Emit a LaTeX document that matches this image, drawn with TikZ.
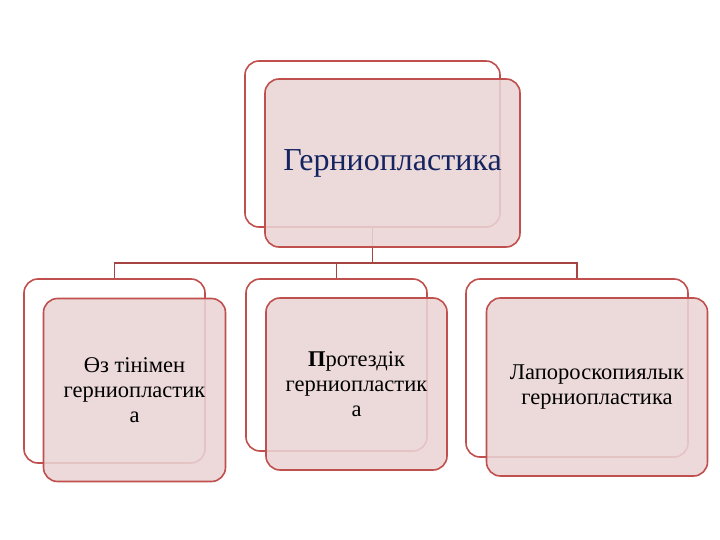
\documentclass[tikz,border=0pt]{standalone}
\usepackage{fontspec}
\setmainfont{Liberation Serif}
\usetikzlibrary{positioning,calc}

\definecolor{bord}{RGB}{192,80,77}
\definecolor{lienrouge}{RGB}{165,68,65}
\definecolor{rose}{RGB}{234,212,213}
\definecolor{marine}{RGB}{20,36,96}

\begin{document}
\begin{tikzpicture}[
      x=1pt, y=-1pt,
      dos/.style={
        draw=bord,
        fill=white,
        line width=1.6pt,
        rectangle,
        rounded corners=14pt,
        inner sep=0pt
      },
      face/.style={
        draw=bord,
        fill=rose,
        fill opacity=0.88,
        text opacity=1,
        line width=1.6pt,
        rectangle,
        rounded corners=14pt,
        inner sep=4pt,
        align=center,
        font=\fontsize{22.5}{25}\selectfont
      },
      lien/.style={
        draw=lienrouge,
        line width=1.8pt
      }
    ]
    \useasboundingbox (0,0) rectangle (720,540);

    % boites de fond
    \node[dos, minimum width=255pt, minimum height=166pt] (t0) at (372.5,144) {};
    \node[dos, minimum width=181pt, minimum height=184pt] (a0) at (114.5,371) {};
    \node[dos, minimum width=181pt, minimum height=172pt] (b0) at (336.5,365) {};
    \node[dos, minimum width=222pt, minimum height=178pt] (c0) at (577,368) {};

    % liens
    \draw[lien] (t0.south) -- ++(0,35) coordinate (fourche);
    \draw[lien] (fourche) -| (a0.north);
    \draw[lien] (fourche) -| (b0.north);
    \draw[lien] (fourche) -| (c0.north);

    % boites de face
    \node[face, minimum width=255pt, minimum height=168pt,
          font=\fontsize{32}{38}\selectfont, text=marine]
          (t1) at ([shift={(20,19)}]t0.center) {Герниопластика};
    \node[face, minimum width=182pt, minimum height=183pt]
          (a1) at ([shift={(20,19)}]a0.center) {Өз тінімен\\герниопластик\\а};
    \node[face, minimum width=181pt, minimum height=172pt]
          (b1) at ([shift={(20,19)}]b0.center) {\textbf{П}ротездік\\герниопластик\\а};
    \node[face, minimum width=221pt, minimum height=178pt]
          (c1) at ([shift={(20,19)}]c0.center) {Лапороскопиялык\\герниопластика};
  \end{tikzpicture}
\end{document}
